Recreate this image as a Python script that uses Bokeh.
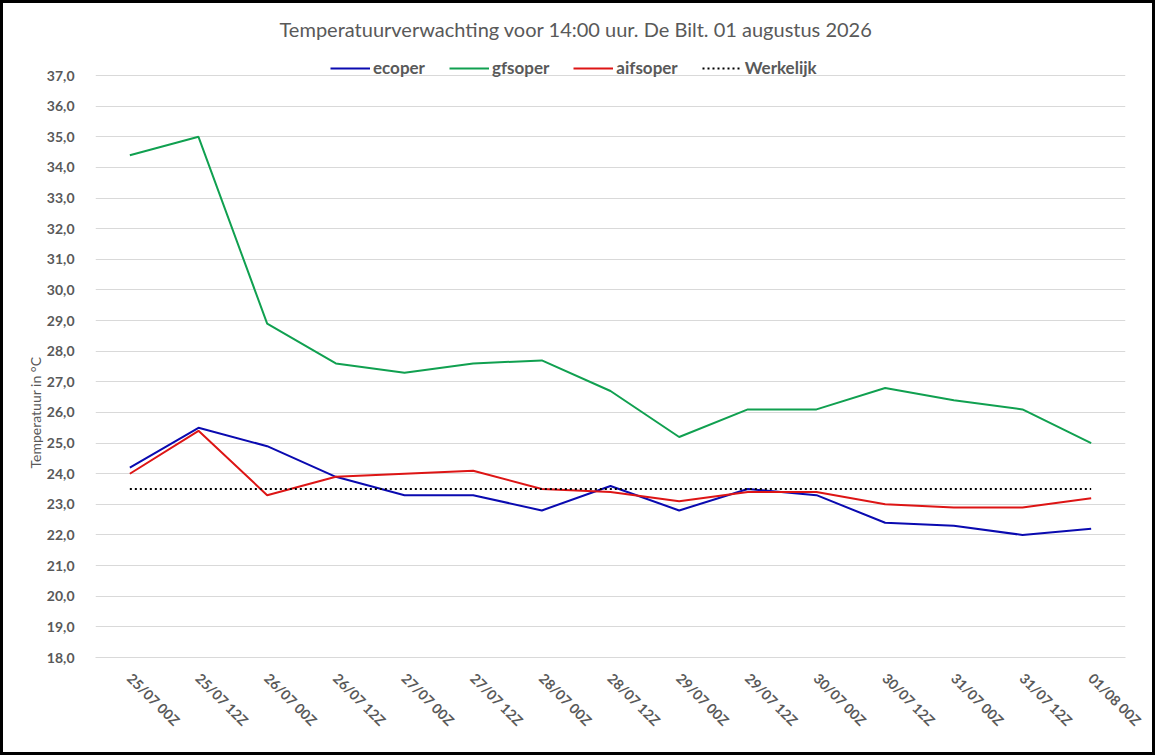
import math
from bokeh.plotting import figure
from bokeh.models import FixedTicker, CustomJSTickFormatter, Legend, LegendItem, Title, ColumnDataSource
from bokeh.embed import file_html
from bokeh.resources import INLINE

categories = ["25/07 00Z", "25/07 12Z", "26/07 00Z", "26/07 12Z", "27/07 00Z",
              "27/07 12Z", "28/07 00Z", "28/07 12Z", "29/07 00Z", "29/07 12Z",
              "30/07 00Z", "30/07 12Z", "31/07 00Z", "31/07 12Z", "01/08 00Z"]
ecoper = [24.2, 25.5, 24.9, 23.9, 23.3, 23.3, 22.8, 23.6, 22.8, 23.5, 23.3, 22.4, 22.3, 22.0, 22.2]
gfsoper = [34.4, 35.0, 28.9, 27.6, 27.3, 27.6, 27.7, 26.7, 25.2, 26.1, 26.1, 26.8, 26.4, 26.1, 25.0]
aifsoper = [24.0, 25.4, 23.3, 23.9, 24.0, 24.1, 23.5, 23.4, 23.1, 23.4, 23.4, 23.0, 22.9, 22.9, 23.2]
werkelijk = [23.5] * len(categories)
y_ticks = list(range(18, 38))

FONT = "Lato"
GRAY = "#595959"
GRID = "#D9D9D9"

src = ColumnDataSource(dict(cat=categories, eco=ecoper, gfs=gfsoper, aifs=aifsoper, wk=werkelijk))

p = figure(x_range=categories, y_range=(18, 37.72), width=1155, height=755,
           output_backend="svg", toolbar_location=None,
           min_border_left=95, min_border_right=30, min_border_bottom=98, min_border_top=53)

p.title.text = "Temperatuurverwachting voor 14:00 uur. De Bilt. 01 augustus 2026"
p.title.align = "left"
p.title.offset = 184
p.title.text_font = FONT
p.title.text_font_size = "20px"
p.title.text_font_style = "normal"
p.title.text_color = GRAY
p.title.standoff = 26

r_eco = p.line("cat", "eco", source=src, line_color="#0A0AB0", line_width=2)
r_gfs = p.line("cat", "gfs", source=src, line_color="#10A050", line_width=2)
r_aifs = p.line("cat", "aifs", source=src, line_color="#DD1515", line_width=2)
r_wk = p.line("cat", "wk", source=src, line_color="black", line_width=2, line_dash="2 3")

legend = Legend(items=[LegendItem(label="ecoper", renderers=[r_eco]),
                       LegendItem(label="gfsoper", renderers=[r_gfs]),
                       LegendItem(label="aifsoper", renderers=[r_aifs]),
                       LegendItem(label="Werkelijk", renderers=[r_wk])],
                orientation="horizontal", location=(235, 579))
legend.label_text_font = FONT
legend.label_text_font_style = "bold"
legend.label_text_font_size = "17px"
legend.label_text_color = GRAY
legend.glyph_width = 40
legend.glyph_height = 20
legend.label_height = 20
legend.label_standoff = 3
legend.spacing = 24
legend.border_line_color = None
legend.background_fill_alpha = 0
legend.padding = 0
legend.margin = 0
p.add_layout(legend)

p.yaxis.ticker = FixedTicker(ticks=y_ticks)
p.yaxis.formatter = CustomJSTickFormatter(code="return tick.toFixed(1).replace('.', ',');")
p.yaxis.axis_line_color = None
p.yaxis.major_tick_line_color = None
p.yaxis.minor_tick_line_color = None
p.yaxis.major_label_text_font = FONT
p.yaxis.major_label_text_font_style = "bold"
p.yaxis.major_label_text_font_size = "14px"
p.yaxis.major_label_text_color = GRAY
p.yaxis.major_label_standoff = 15

p.xaxis.axis_line_color = GRID
p.xaxis.major_tick_line_color = None
p.xaxis.minor_tick_line_color = None
p.xaxis.major_label_orientation = -math.pi / 4
p.xaxis.major_label_text_font = FONT
p.xaxis.major_label_text_font_style = "bold"
p.xaxis.major_label_text_font_size = "14px"
p.xaxis.major_label_text_color = GRAY
p.xaxis.major_label_standoff = 12

p.xgrid.grid_line_color = None
p.ygrid.grid_line_color = GRID
p.ygrid.grid_line_width = 1
p.outline_line_color = None

ytitle = Title(text="Temperatuur in °C", align="left", offset=189, standoff=0,
               text_font=FONT, text_font_size="14px", text_font_style="normal",
               text_color=GRAY)
p.add_layout(ytitle, "left")

p.stylesheets = [":host::after { content: ''; position: absolute; left: 0; top: 0; "
                 "right: 0; bottom: 0; border: 3px solid black; pointer-events: none; "
                 "z-index: 100; }"]

open("out.html", "w").write(file_html(p, INLINE))
